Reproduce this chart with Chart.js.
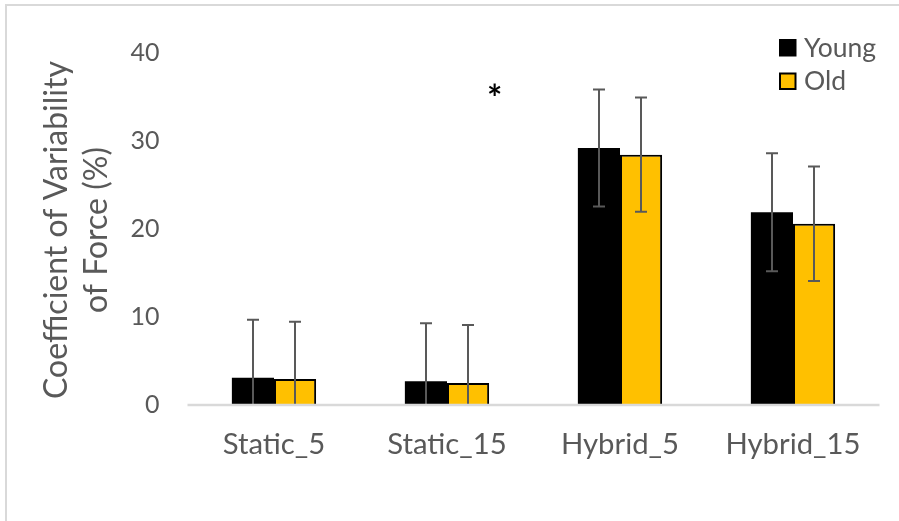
<!DOCTYPE html>
<html>
<head>
<meta charset="utf-8">
<script src="https://cdn.jsdelivr.net/npm/chart.js@4.4.0/dist/chart.umd.min.js"></script>
<style>
html,body{margin:0;padding:0;background:#fff;}
#wrap{width:899px;height:521px;position:relative;}
</style>
</head>
<body>
<div id="wrap"><canvas id="c" width="899" height="521"></canvas></div>
<script>
const categories = ['Static_5', 'Static_15', 'Hybrid_5', 'Hybrid_15'];
const seriesNames = ['Young', 'Old'];
const youngValues = [3.1, 2.7, 29.2, 21.9];
const oldValues = [2.95, 2.5, 28.45, 20.6];
const youngErrors = [6.6, 6.6, 6.65, 6.7];
const oldErrors = [6.5, 6.6, 6.5, 6.5];
const yTicks = [0, 10, 20, 30, 40];
const yTitle = ['Coefficient of Variability', 'of Force (%)'];
const significanceMark = '*';
const significancePos = [1.274, 35.8]; // [category index, value]

const FONT = 'Lato, "Open Sans", sans-serif';
const GRAY = '#595959';

const errorBarPlugin = {
  id: 'errorBars',
  afterDatasetsDraw(chart) {
    const ctx = chart.ctx;
    const y = chart.scales.y;
    const errs = [youngErrors, oldErrors];
    ctx.save();
    ctx.strokeStyle = GRAY;
    ctx.lineWidth = 2;
    chart.data.datasets.forEach((ds, di) => {
      const meta = chart.getDatasetMeta(di);
      meta.data.forEach((bar, i) => {
        const v = ds.data[i];
        const e = errs[di][i];
        const x = Math.round(bar.x);
        const yTop = y.getPixelForValue(v + e);
        const yBot = y.getPixelForValue(Math.max(v - e, y.min));
        ctx.beginPath();
        ctx.moveTo(x, yTop); ctx.lineTo(x, yBot);
        ctx.moveTo(x - 6, yTop); ctx.lineTo(x + 6, yTop);
        if (v - e > y.min) { ctx.moveTo(x - 6, yBot); ctx.lineTo(x + 6, yBot); }
        ctx.stroke();
      });
    });
    // zero axis line
    ctx.strokeStyle = '#d9d9d9';
    ctx.lineWidth = 2.5;
    const y0 = y.getPixelForValue(0);
    ctx.beginPath();
    ctx.moveTo(chart.chartArea.left, y0);
    ctx.lineTo(chart.chartArea.right, y0);
    ctx.stroke();
    // significance mark, glyph centred on its position
    const xs = chart.scales.x;
    ctx.fillStyle = '#000';
    ctx.font = 'bold 36px ' + FONT;
    ctx.textAlign = 'left';
    ctx.textBaseline = 'alphabetic';
    const m = ctx.measureText(significanceMark);
    const cx = xs.getPixelForValue(significancePos[0]);
    const cy = y.getPixelForValue(significancePos[1]);
    const gw = m.actualBoundingBoxRight + m.actualBoundingBoxLeft;
    const gh = m.actualBoundingBoxAscent + m.actualBoundingBoxDescent;
    ctx.fillText(significanceMark, cx - gw / 2 + m.actualBoundingBoxLeft, cy + gh / 2 - m.actualBoundingBoxDescent);
    ctx.restore();
  }
};

const frameLegendPlugin = {
  id: 'frameLegend',
  beforeDraw(chart) {
    const ctx = chart.ctx;
    ctx.save();
    ctx.fillStyle = '#fff';
    ctx.fillRect(0, 0, chart.width, chart.height);
    ctx.strokeStyle = '#d9d9d9';
    ctx.lineWidth = 2;
    ctx.beginPath();
    ctx.moveTo(6, 530); ctx.lineTo(6, 5); ctx.lineTo(905, 5);
    ctx.stroke();
    ctx.restore();
  },
  afterDraw(chart) {
    const ctx = chart.ctx;
    ctx.save();
    // y axis title (two lines, rotated)
    const ca = chart.chartArea;
    ctx.fillStyle = GRAY;
    ctx.font = '32px ' + FONT;
    ctx.textAlign = 'center';
    ctx.textBaseline = 'alphabetic';
    const titleCenterY = (ca.top + ca.bottom) / 2 + 1;
    yTitle.forEach((line, i) => {
      ctx.save();
      ctx.translate(67 + i * 40, titleCenterY);
      ctx.rotate(-Math.PI / 2);
      ctx.fillText(line, 0, 0);
      ctx.restore();
    });
    // legend
    chart.data.datasets.forEach((ds, i) => {
      const sx = 779, sy = 39 + i * 33.5, s = 17.5;
      ctx.fillStyle = '#000';
      ctx.fillRect(sx, sy, s, s);
      ctx.fillStyle = ds.backgroundColor;
      ctx.fillRect(sx + 2, sy + 2, s - 4, s - 4);
      ctx.fillStyle = GRAY;
      ctx.font = '26.5px ' + FONT;
      ctx.textAlign = 'left';
      ctx.textBaseline = 'alphabetic';
      ctx.fillText(ds.label, 804, sy + s);
    });
    ctx.restore();
  }
};

new Chart(document.getElementById('c'), {
  type: 'bar',
  data: {
    labels: categories,
    datasets: [
      { label: seriesNames[0], data: youngValues, backgroundColor: '#000000', borderColor: '#000000', borderWidth: 0 },
      { label: seriesNames[1], data: oldValues, backgroundColor: '#FFC000', borderColor: '#000000', borderWidth: 2 }
    ]
  },
  options: {
    responsive: false,
    animation: false,
    devicePixelRatio: 1,
    layout: { padding: { left: 0, right: 19.5, top: 53, bottom: 40 } },
    plugins: { legend: { display: false }, tooltip: { enabled: false } },
    datasets: { bar: { categoryPercentage: 0.487, barPercentage: 1.0 } },
    scales: {
      x: {
        grid: { display: false, drawTicks: false },
        border: { display: false },
        ticks: { color: GRAY, font: { family: FONT, size: 29.3 }, padding: 22, maxRotation: 0 },
        afterFit(s) { s.height = 76; }
      },
      y: {
        min: 0, max: 40,
        afterBuildTicks(s) { s.ticks = yTicks.map(v => ({ value: v })); },
        grid: { display: false, drawTicks: false },
        border: { display: false },
        ticks: { color: GRAY, font: { family: FONT, size: 25 }, padding: 28 },
        afterFit(s) { s.width = 187.5; }
      }
    }
  },
  plugins: [frameLegendPlugin, errorBarPlugin]
});
</script>
</body>
</html>
